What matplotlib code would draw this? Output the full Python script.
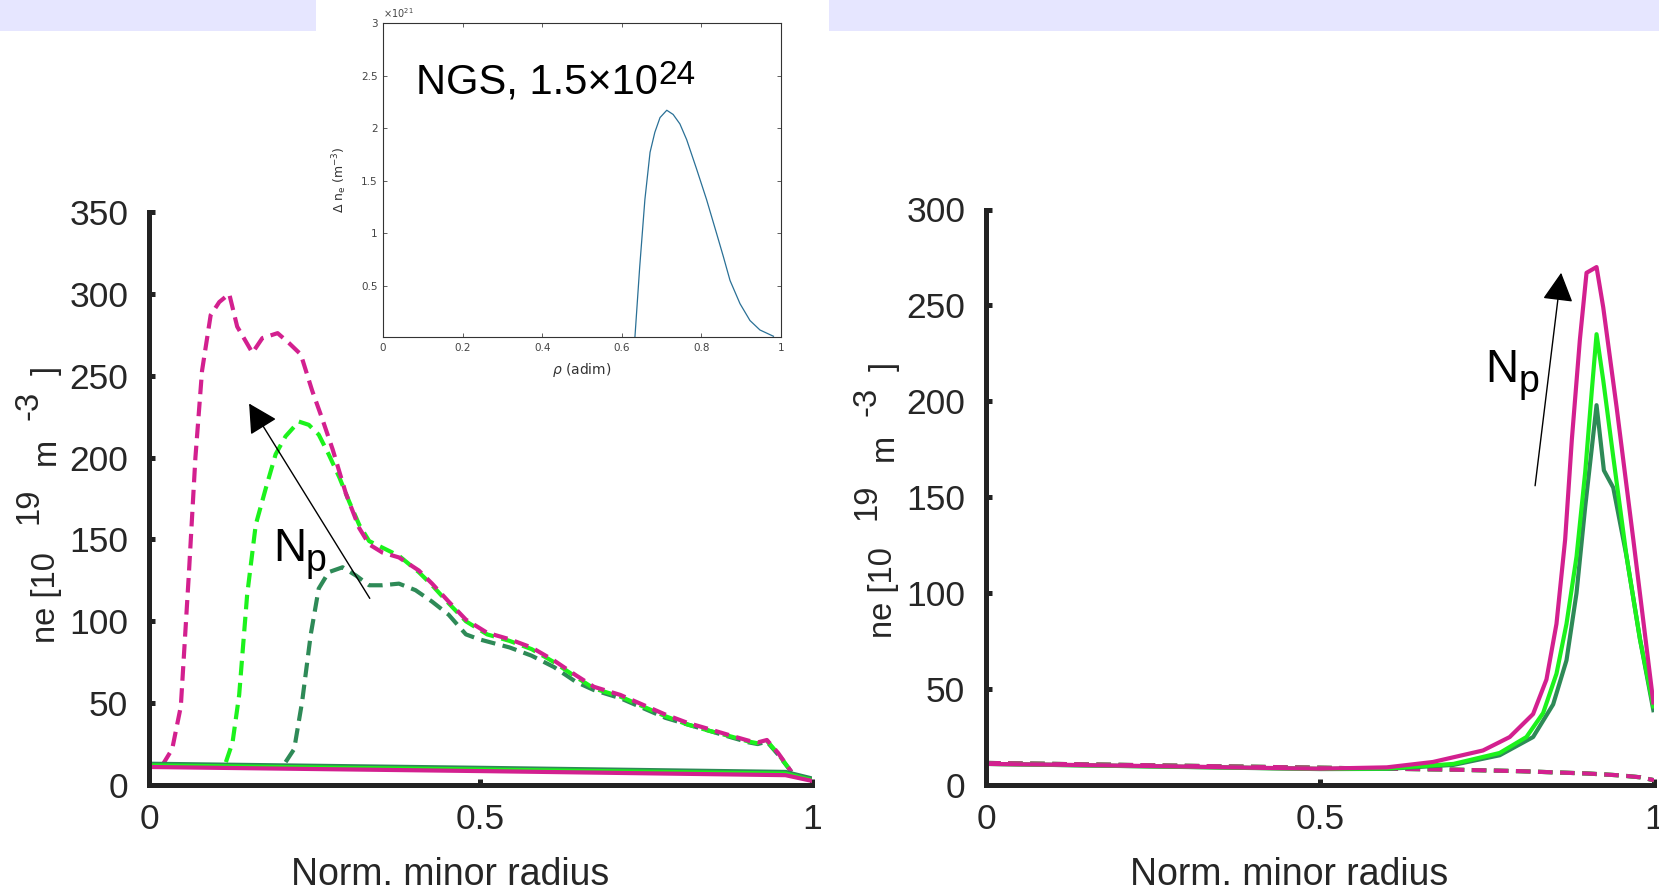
import numpy as np
import matplotlib
matplotlib.use("Agg")
import matplotlib.pyplot as plt
from matplotlib import font_manager as fm
from matplotlib.patches import Rectangle
from matplotlib.transforms import offset_copy, IdentityTransform

# ---------------------------------------------------------------- data
# Left panel: dashed profiles (pellet-perturbed), three pellet numbers
xL_dg_dash = [0.206, 0.219, 0.231, 0.244, 0.256, 0.271, 0.292, 0.312, 0.332, 0.352, 0.377,
              0.402, 0.427, 0.452, 0.478, 0.498, 0.544, 0.577, 0.611, 0.644, 0.671, 0.711,
              0.745, 0.779, 0.812, 0.846, 0.879, 0.905, 0.918, 0.932, 0.949, 0.969]
yL_dg_dash = [14, 22, 51, 92, 120, 130, 133, 128, 122, 122, 123,
              119, 112, 104, 92, 89, 84, 79, 72, 63, 58, 53,
              47, 41, 37, 33, 29, 26, 25, 26.5, 18.5, 8]

xL_lime_dash = [0.116, 0.126, 0.136, 0.148, 0.161, 0.176, 0.191, 0.206, 0.226, 0.241, 0.256,
                0.271, 0.287, 0.302, 0.317, 0.332, 0.352, 0.377, 0.407, 0.427, 0.452, 0.478,
                0.498, 0.510, 0.544, 0.577, 0.611, 0.644, 0.671, 0.711, 0.745, 0.779, 0.812,
                0.846, 0.879, 0.905, 0.918, 0.932, 0.949, 0.969]
yL_lime_dash = [14, 26, 55, 116, 159, 181, 202, 213, 222, 220, 214,
                202, 188, 173, 159, 149, 145, 140, 130, 122, 111, 100,
                95, 92, 88, 83, 75, 66, 59, 54, 48, 42, 37,
                33, 29.5, 26.5, 25.5, 27, 19, 8]

xL_mag_dash = [0.020, 0.035, 0.048, 0.060, 0.070, 0.080, 0.093, 0.106, 0.121, 0.133, 0.156,
               0.171, 0.194, 0.211, 0.229, 0.246, 0.261, 0.277, 0.297, 0.317, 0.332, 0.352,
               0.377, 0.407, 0.427, 0.452, 0.478, 0.498, 0.510, 0.544, 0.577, 0.611, 0.644,
               0.671, 0.711, 0.745, 0.779, 0.812, 0.846, 0.879, 0.905, 0.918, 0.932, 0.949, 0.969]
yL_mag_dash = [12, 22, 48, 128, 200, 253, 287, 295, 300, 280, 264,
               273, 276, 270, 263, 241, 224, 205, 178, 157, 147, 142,
               139, 131, 123, 112, 101, 96, 93, 89, 84, 76, 67,
               60, 55, 49, 43, 38, 34, 30, 27, 26, 27.5, 19.5, 8]

# Left panel: solid reference profiles
xL_solid = [0.0, 0.5, 0.96, 1.0]
yL_dg_solid = [13, 10.5, 8, 4]
yL_lime_solid = [12, 9.5, 7, 3]
yL_mag_solid = [11, 8.5, 6, 2.5]

# Right panel: solid profiles with edge peak
xR_dg = [0.0, 0.5, 0.6, 0.7, 0.769, 0.819, 0.849, 0.869, 0.884, 0.897, 0.907, 0.914,
         0.925, 0.939, 0.959, 0.979, 0.999]
yR_dg = [11, 8.3, 8.4, 10.5, 15.5, 25, 42, 65, 100, 145, 176, 198,
         164, 155, 119, 76, 39]

xR_lime = [0.0, 0.5, 0.6, 0.7, 0.769, 0.809, 0.834, 0.854, 0.869, 0.884, 0.897, 0.907,
           0.914, 0.924, 0.939, 0.959, 0.979, 0.999]
yR_lime = [11, 8.4, 8.6, 11, 16.7, 25, 37.5, 58, 84, 119, 163, 206,
           235, 211, 171, 119, 76, 41]

xR_mag = [0.0, 0.1, 0.2, 0.3, 0.4, 0.5, 0.6, 0.669, 0.744, 0.784, 0.819, 0.839, 0.854,
          0.867, 0.877, 0.889, 0.899, 0.914, 0.924, 0.944, 0.969, 0.999]
yR_mag = [11, 10.6, 10.1, 9.6, 9.0, 8.5, 9.2, 12, 18, 25, 37, 55, 84,
          128, 180, 232, 267, 270, 249, 197, 128, 43]

# Right panel: dashed profiles (nearly identical for the three cases)
xR_dash = [0.0, 0.1, 0.2, 0.3, 0.4, 0.5, 0.6, 0.7, 0.8, 0.9, 0.95, 0.98, 1.0]
yR_dash = [11.5, 11, 10.5, 10, 9.5, 9, 8.5, 8, 7.2, 6, 5, 4, 2.5]

# Inset: density increment (units of 1e21 m^-3)
rho = [0.630, 0.633, 0.645, 0.658, 0.671, 0.683, 0.696, 0.713, 0.729, 0.746, 0.763,
       0.788, 0.813, 0.838, 0.855, 0.872, 0.897, 0.922, 0.947, 0.981]
delta_ne_e21 = [0.0, 0.013, 0.68, 1.32, 1.77, 1.96, 2.10, 2.17, 2.13, 2.04, 1.89,
                1.61, 1.32, 1.00, 0.78, 0.55, 0.33, 0.17, 0.08, 0.02]

xticks_main = [0, 0.5, 1]
xtick_labels_main = ["0", "0.5", "1"]
yticks_left = [0, 50, 100, 150, 200, 250, 300, 350]
yticks_right = [0, 50, 100, 150, 200, 250, 300]
inset_xticks = [0, 0.2, 0.4, 0.6, 0.8, 1.0]
inset_xtick_labels = ["0", "0.2", "0.4", "0.6", "0.8", "1"]
inset_yticks = [0.5, 1.0, 1.5, 2.0, 2.5, 3.0]
inset_ytick_labels = ["0.5", "1", "1.5", "2", "2.5", "3"]

# ---------------------------------------------------------------- style
MAG = "#D3208F"
LIME = "#1CF21C"
DKG = "#2E8A57"
AXC = "#222222"
DASH = (0, (3.5, 1.8))


def has_font(name):
    try:
        fm.findfont(fm.FontProperties(family=name), fallback_to_default=False)
        return True
    except Exception:
        return False


SANS = "Liberation Sans"
if has_font("Liberation Sans Narrow"):
    NARROW = "Liberation Sans Narrow"
    tick_fs, xlab_fs = 26.5, 32
else:
    NARROW = SANS
    tick_fs, xlab_fs = 25.5, 27

W, H = 1659, 893
fig = plt.figure(figsize=(W / 100, H / 100), dpi=100)

# lavender header bands
fig.add_artist(Rectangle((0, 1 - 31 / H), 316 / W, 31 / H, transform=fig.transFigure,
                         facecolor="#E6E6FF", edgecolor="none", zorder=0))
fig.add_artist(Rectangle((829 / W, 1 - 31 / H), (W - 829) / W, 31 / H,
                         transform=fig.transFigure, facecolor="#E6E6FF",
                         edgecolor="none", zorder=0))

axL = fig.add_axes([149 / W, 108 / H, 663 / W, 573 / H])
axR = fig.add_axes([986 / W, 108 / H, 668 / W, 575.5 / H])


def style_main(ax, yticks, ymax):
    for s in ("top", "right"):
        ax.spines[s].set_visible(False)
    for s in ("left", "bottom"):
        ax.spines[s].set_linewidth(3.6)
        ax.spines[s].set_color(AXC)
        ax.spines[s].set_capstyle("projecting")
    ax.set_xlim(0, 1)
    ax.set_ylim(0, ymax)
    ax.set_xticks(xticks_main, labels=xtick_labels_main)
    ax.set_yticks(yticks)
    ax.tick_params(direction="in", length=4.5, width=3.6, colors=AXC,
                   labelsize=tick_fs, labelcolor="#262626")
    ax.tick_params(axis="y", pad=15)
    ax.tick_params(axis="x", pad=13)
    for lab in ax.get_xticklabels() + ax.get_yticklabels():
        lab.set_family(NARROW)
    ax.set_xlabel("Norm. minor radius", fontsize=xlab_fs, family=NARROW, color="#262626")
    ax.xaxis.set_label_coords(0.454, -0.125)


style_main(axL, yticks_left, 350)
style_main(axR, yticks_right, 300)

# left panel curves
axL.plot(xL_dg_dash, yL_dg_dash, color=DKG, lw=3, ls=DASH)
axL.plot(xL_lime_dash, yL_lime_dash, color=LIME, lw=3, ls=DASH)
axL.plot(xL_mag_dash, yL_mag_dash, color=MAG, lw=3, ls=DASH)
axL.plot(xL_solid, yL_dg_solid, color=DKG, lw=3)
axL.plot(xL_solid, yL_lime_solid, color=LIME, lw=3)
axL.plot(xL_solid, yL_mag_solid, color=MAG, lw=3)

# right panel curves
axR.plot(xR_dash, yR_dash, color=DKG, lw=3, ls=DASH)
axR.plot(xR_dash, yR_dash, color=LIME, lw=3, ls=DASH)
axR.plot(xR_dash, yR_dash, color=MAG, lw=3, ls=DASH)
axR.plot(xR_dg, yR_dg, color=DKG, lw=3)
axR.plot(xR_lime, yR_lime, color=LIME, lw=3)
axR.plot(xR_mag, yR_mag, color=MAG, lw=3)

# arrows indicating increasing pellet number
arrow_kw = dict(arrowstyle="-|>,head_length=0.75,head_width=0.4", mutation_scale=24,
                lw=1.0, color="black", shrinkA=0, shrinkB=0)
axL.annotate("", xy=(0.151, 233), xytext=(0.333, 114), arrowprops=arrow_kw)
axR.annotate("", xy=(0.861, 267), xytext=(0.822, 156), arrowprops=arrow_kw)

renderer = fig.canvas.get_renderer()


def label_with_sub(ax, x, y, main, sub, size, sub_size, drop):
    t = ax.text(x, y, main, fontsize=size, family=SANS, ha="left", va="baseline")
    w = t.get_window_extent(renderer).width
    tr = offset_copy(ax.transData, fig=fig, x=w, y=-drop, units="dots")
    ax.text(x, y, sub, fontsize=sub_size, family=SANS, ha="left", va="baseline", transform=tr)


label_with_sub(axL, 0.187, 137, "N", "p", 33, 27, 10)
label_with_sub(axR, 0.747, 210, "N", "p", 33, 27, 10)


def rotated_label(ax, anchor, pieces, size):
    """Lay out text pieces along a vertical baseline; each piece is
    (text, gap before in px, raise in px)."""
    lengths = []
    for s, _, _ in pieces:
        t = fig.text(0, 0, s, fontsize=size, family=SANS)
        lengths.append(t.get_window_extent(renderer).width)
        t.remove()
    total = sum(lengths) + sum(g for _, g, _ in pieces)
    x0, yc = ax.transAxes.transform(anchor)
    y = yc - total / 2
    for (s, gap, rise), L in zip(pieces, lengths):
        y += gap
        fig.text(x0 - rise, y, s, fontsize=size, family=SANS, color="#262626",
                 rotation=90, rotation_mode="anchor", ha="left", va="baseline",
                 transform=IdentityTransform())
        y += L


ylabel_pieces = [("ne [10", 0, 0), ("19", 28, 17), ("m", 22, 0), ("-3", 18, 17), ("]", 16, 0)]
rotated_label(axL, (-0.142, 0.490), ylabel_pieces, 23.5)
rotated_label(axR, (-0.140, 0.495), ylabel_pieces, 23.5)

# ---------------------------------------------------------------- inset
axI = fig.add_axes([383 / W, (H - 337) / H, 398 / W, 314 / H], zorder=5)
axI.set_facecolor("white")
axI.plot(rho, delta_ne_e21, color="#2a7096", lw=0.9)
axI.set_xlim(0, 1)
axI.set_ylim(0.013, 3)
axI.set_xticks(inset_xticks, labels=inset_xtick_labels)
axI.set_yticks(inset_yticks, labels=inset_ytick_labels)
for s in axI.spines.values():
    s.set_linewidth(0.8)
    s.set_color("#333333")
axI.tick_params(direction="in", length=3, width=0.6, top=True, right=True,
                labelsize=7.5, colors="#444444", pad=4)
axI.set_xlabel(r"$\rho$ (adim)", fontsize=10, color="#333333")
axI.xaxis.set_label_coords(0.5, -0.075)
axI.set_ylabel(r"$\Delta$ n$_\mathregular{e}$ (m$^{-3}$)", fontsize=9, color="#333333")
axI.yaxis.set_label_coords(-0.085, 0.5)
axI.text(0.0, 1.008, r"$\times10^{21}$", transform=axI.transAxes, fontsize=7,
         color="#444444", ha="left", va="bottom")

t_main = axI.text(0.083, 0.777, "NGS, 1.5\u00d710", transform=axI.transAxes,
                  fontsize=30, family=SANS, ha="left", va="baseline")
w_main = t_main.get_window_extent(renderer).width
axI.text(0.083, 0.777, "24", fontsize=24, family=SANS, ha="left", va="baseline",
         transform=offset_copy(axI.transAxes, fig=fig, x=w_main, y=9, units="dots"))

fig.savefig("out.png", dpi=100, facecolor="white")
